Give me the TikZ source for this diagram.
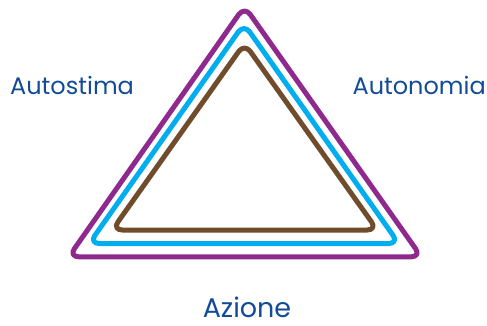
\documentclass[tikz,border=0pt]{standalone}
\usepackage{fontspec}
\setmainfont{Poppins}
\definecolor{tpurple}{RGB}{142,42,142}
\definecolor{tcyan}{RGB}{0,174,239}
\definecolor{tbrown}{RGB}{111,77,44}
\definecolor{tblue}{RGB}{18,76,150}
\begin{document}
\begin{tikzpicture}[x=1pt,y=-1pt,
  ring/.style={line width=5pt,rounded corners=10pt,line join=round},
  lbl/.style={text=tblue,inner sep=0pt,text depth=0pt,font=\fontsize{24}{24}\selectfont}]
\useasboundingbox (0,0) rectangle (487,326);
\draw[ring,tpurple] (244.5,6.3) -- (421.3,256.8) -- (68.7,256.8) -- cycle;
\draw[ring,tcyan] (244,23.8) -- (398.8,243.5) -- (89.2,243.5) -- cycle;
\draw[ring,tbrown] (244.5,43.3) -- (377.3,230) -- (112.2,230) -- cycle;
\node[lbl,anchor=base west] (a) at (10,95) {Autostima};
\node[lbl,anchor=base east] (b) at (486,95) {Autonomia};
\node[lbl,anchor=base,font=\fontsize{27}{27}\selectfont] (c) at (247,317) {Azione};
\end{tikzpicture}
\end{document}
